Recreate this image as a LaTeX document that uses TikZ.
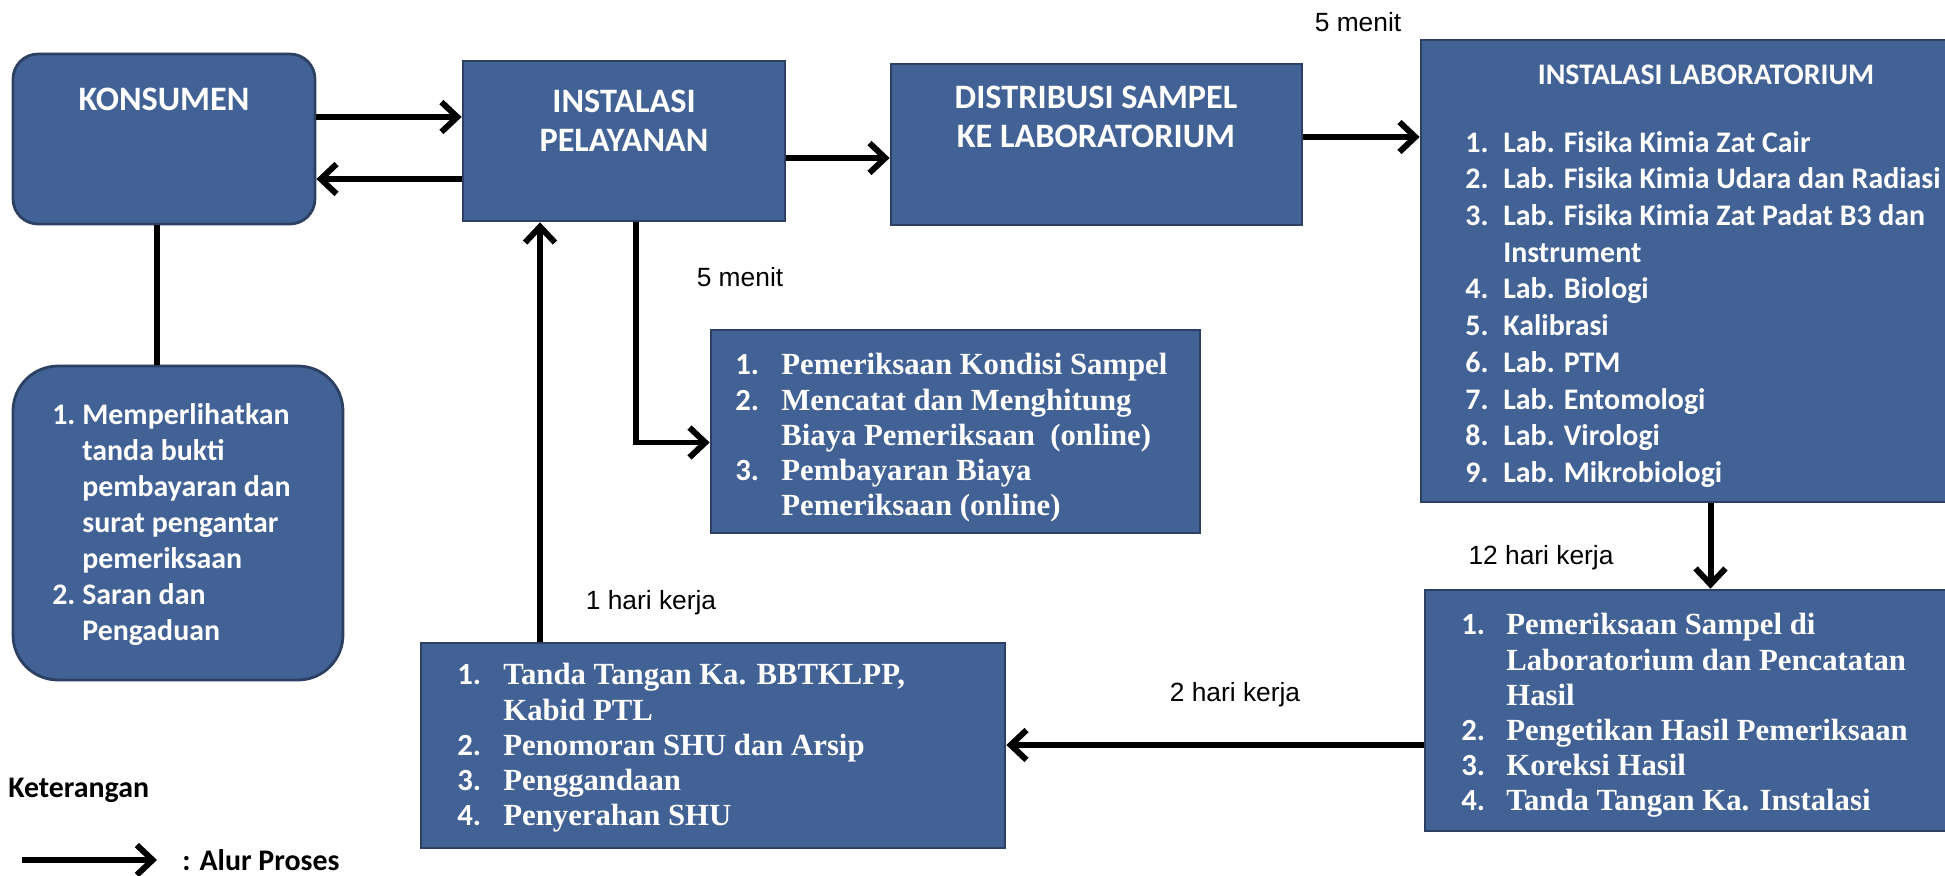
\documentclass[tikz,border=0pt]{standalone}
\usepackage{fontspec}
\usepackage{array}
\setmainfont{Carlito}
\newfontfamily\serifbold{Liberation Serif}
\newfontfamily\labelfont{Liberation Sans}
\usetikzlibrary{arrows.meta,positioning}

\definecolor{blokfill}{RGB}{66,98,150}
\definecolor{bloktepi}{RGB}{44,64,100}

\newcolumntype{N}[1]{>{\rmfamily\bfseries}p{#1}}
\newcolumntype{T}{>{\serifbold\bfseries}l}

\tikzset{
  blok/.style={draw=bloktepi, line width=1.6pt, fill=blokfill, inner sep=0pt},
  blokbulat/.style={blok, rounded corners=0.5cm},
  judul/.style={text=white, inner sep=0pt, align=center, font=\fontsize{19.5}{22}\selectfont\bfseries},
  daftar/.style={text=white, anchor=north west, inner sep=0pt},
  alur/.style={line width=3.4pt, -{Straight Barb[length=9pt,width=17pt]}},
  waktu/.style={inner sep=0pt, font=\labelfont\fontsize{15}{18}\selectfont}
}

\begin{document}
\begin{tikzpicture}[x=0.02cm, y=-0.02cm]
\useasboundingbox (0,0) rectangle (1945,876);

% Konsumen
\node[blokbulat, minimum width=6.04cm, minimum height=3.4cm] (konsumen) at (164,139) {};
\node[judul] (konsumenT) at (164,99) {KONSUMEN};

% Syarat konsumen
\node[blokbulat, rounded corners=0.9cm, minimum width=6.6cm, minimum height=6.28cm] (bukti) at (178,523) {};
\node[daftar, font=\fontsize{17}{20.5}\selectfont\bfseries] (buktiL) at (52,399) {%
\begin{tabular}{@{}p{0.6cm}@{}l@{}}
1. & Memperlihatkan\\
   & tanda bukti\\
   & pembayaran dan\\
   & surat pengantar\\
   & pemeriksaan\\
2. & Saran dan\\
   & Pengaduan
\end{tabular}};

% Instalasi pelayanan
\node[blok, minimum width=6.44cm, minimum height=3.2cm] (pelayanan) at (624,141) {};
\node[judul] (pelayananT) at (624,121) {INSTALASI\\PELAYANAN};

% Distribusi sampel
\node[blok, minimum width=8.22cm, minimum height=3.22cm] (distribusi) at (1096.5,144.5) {};
\node[judul] (distribusiT) at (1096,117) {DISTRIBUSI SAMPEL\\KE LABORATORIUM};

% Instalasi laboratorium
\node[blok, minimum width=11.58cm, minimum height=9.24cm] (lab) at (1710.5,271) {};
\node[judul, font=\fontsize{17}{21}\selectfont\bfseries] (labT) at (1706,75) {INSTALASI LABORATORIUM};
\node[daftar, font=\fontsize{17}{20.9}\selectfont\bfseries] (labL) at (1465,126) {%
\begin{tabular}{@{}p{0.76cm}@{}l@{}}
1. & Lab. Fisika Kimia Zat Cair\\
2. & Lab. Fisika Kimia Udara dan Radiasi\\
3. & Lab. Fisika Kimia Zat Padat B3 dan\\
   & Instrument\\
4. & Lab. Biologi\\
5. & Kalibrasi\\
6. & Lab. PTM\\
7. & Lab. Entomologi\\
8. & Lab. Virologi\\
9. & Lab. Mikrobiologi
\end{tabular}};

% Pemeriksaan kondisi sampel
\node[blok, minimum width=9.78cm, minimum height=4.06cm] (kondisi) at (955.5,431.5) {};
\node[daftar, font=\fontsize{17.5}{20}\selectfont] (kondisiL) at (735,350) {%
\begin{tabular}{@{}N{0.92cm}@{}T@{}}
1. & Pemeriksaan Kondisi Sampel\\
2. & Mencatat dan Menghitung\\
   & Biaya Pemeriksaan \ (online)\\
3. & Pembayaran Biaya\\
   & Pemeriksaan (online)
\end{tabular}};

% Pemeriksaan di laboratorium
\node[blok, minimum width=11.5cm, minimum height=4.82cm] (hasil) at (1712.5,710.5) {};
\node[daftar, font=\fontsize{17.5}{20}\selectfont] (hasilL) at (1461,610) {%
\begin{tabular}{@{}N{0.9cm}@{}T@{}}
1. & Pemeriksaan Sampel di\\
   & Laboratorium dan Pencatatan\\
   & Hasil\\
2. & Pengetikan Hasil Pemeriksaan\\
3. & Koreksi Hasil\\
4. & Tanda Tangan Ka. Instalasi
\end{tabular}};

% Penyerahan SHU
\node[blok, minimum width=11.68cm, minimum height=4.1cm] (arsip) at (713,745.5) {};
\node[daftar, font=\fontsize{17.5}{20}\selectfont] (arsipL) at (457,660) {%
\begin{tabular}{@{}N{0.92cm}@{}T@{}}
1. & Tanda Tangan Ka. BBTKLPP,\\
   & Kabid PTL\\
2. & Penomoran SHU dan Arsip\\
3. & Penggandaan\\
4. & Penyerahan SHU
\end{tabular}};

% Alur
\draw[alur] ([yshift=0.44cm]konsumen.east) -- ([yshift=0.44cm]konsumen.east -| pelayanan.west);
\draw[alur] ([yshift=-0.8cm]konsumen.east -| pelayanan.west) -- ([yshift=-0.8cm]konsumen.east);
\draw[alur] ([yshift=-0.34cm]pelayanan.east) -- ([yshift=-0.34cm]pelayanan.east -| distribusi.west);
\draw[alur] ([yshift=0.15cm]distribusi.east) -- ([yshift=0.15cm]distribusi.east -| lab.west);
\draw[alur] ([xshift=0.24cm]pelayanan.south) |- ([yshift=-0.22cm]kondisi.west);
\draw[alur] (lab.south) -- (lab.south |- hasil.north);
\draw[alur] ([yshift=-0.69cm]hasil.west) -- ([yshift=-0.69cm]hasil.west -| arsip.east);
\draw[alur] ([xshift=-3.46cm]arsip.north) -- ([xshift=-3.46cm]arsip.north |- pelayanan.south);
\draw[line width=3.4pt] ([xshift=-0.14cm]konsumen.south) -- ([xshift=-0.14cm]konsumen.south |- bukti.north);

% Waktu
\node[waktu] (w1) at (1358,22) {5 menit};
\node[waktu] (w2) at (740,277) {5 menit};
\node[waktu] (w3) at (651,603) {1 hari kerja};
\node[waktu] (w4) at (1541,558) {12 hari kerja};
\node[waktu] (w5) at (1235,695) {2 hari kerja};

% Keterangan
\node[anchor=west, inner sep=0pt, font=\fontsize{17}{20}\selectfont\bfseries] (ket) at (8,790) {Keterangan};
\coordinate (legA) at (22,860);
\coordinate (legB) at (157,860);
\draw[alur] (legA) -- (legB);
\node[anchor=west, inner sep=0pt, font=\fontsize{17}{20}\selectfont\bfseries] (legT) at (182,860) {: Alur Proses};
\end{tikzpicture}
\end{document}
